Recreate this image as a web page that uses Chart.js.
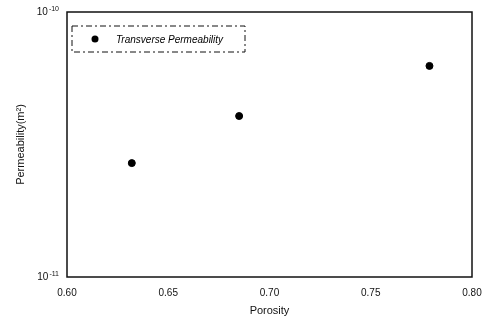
<!DOCTYPE html>
<html>
<head>
<meta charset="utf-8">
<script src="https://cdn.jsdelivr.net/npm/chart.js@4"></script>
<style>
  body { margin: 0; background: #fff; }
  #wrap { width: 491px; height: 322px; }
</style>
</head>
<body>
<div id="wrap"><canvas id="c"></canvas></div>
<script>
// données
const porosity = [0.632, 0.685, 0.779];
const permeability = [2.69e-11, 4.05e-11, 6.26e-11];
const xTicks = [0.60, 0.65, 0.70, 0.75, 0.80];
const yTicks = [1e-11, 1e-10];
const yExponents = ['-11', '-10'];
const seriesLabel = 'Transverse Permeability';

const font = 'Liberation Sans, Arial, sans-serif';

// cadre, étiquettes 10^n de l'axe y et légende en pointillés
const framePlugin = {
    id: 'frame',
    afterDraw(chart) {
        const ctx = chart.ctx;
        const a = chart.chartArea;
        const y = chart.scales.y;
        ctx.save();
        ctx.strokeStyle = '#111';
        ctx.lineWidth = 1.5;
        ctx.strokeRect(a.left, a.top, a.right - a.left, a.bottom - a.top);

        // étiquettes de l'axe y : 10 avec exposant
        ctx.fillStyle = '#111';
        ctx.textBaseline = 'alphabetic';
        yTicks.forEach((v, i) => {
            const py = y.getPixelForValue(v);
            ctx.font = '7px ' + font;
            ctx.textAlign = 'left';
            const ew = ctx.measureText(yExponents[i]).width;
            const ex = a.left - 8 - ew;
            ctx.fillText(yExponents[i], ex, py - 1);
            ctx.font = '10px ' + font;
            ctx.textAlign = 'right';
            ctx.fillText('10', ex - 1, py + 3);
        });

        // légende
        const lx = a.left + 5, ly = a.top + 14, lw = 173, lh = 26;
        ctx.lineWidth = 1;
        ctx.setLineDash([6, 3, 2, 3]);
        ctx.strokeRect(lx, ly, lw, lh);
        ctx.setLineDash([]);
        ctx.fillStyle = '#000';
        ctx.beginPath();
        ctx.arc(lx + 23, ly + lh / 2, 3.5, 0, Math.PI * 2);
        ctx.fill();
        ctx.font = 'italic 10px ' + font;
        ctx.textAlign = 'left';
        ctx.textBaseline = 'middle';
        ctx.fillText(seriesLabel, lx + 44, ly + lh / 2 + 1);
        ctx.restore();
    }
};

const data = {
    datasets: [{
        label: seriesLabel,
        data: porosity.map((x, i) => ({ x: x, y: permeability[i] })),
        backgroundColor: '#000',
        borderColor: '#000',
        pointRadius: 3.5,
        pointHoverRadius: 3.5
    }]
};

const config = {
    type: 'scatter',
    data: data,
    options: {
        responsive: true,
        maintainAspectRatio: false,
        animation: false,
        layout: { padding: { top: 12, right: 19, left: 0, bottom: 0 } },
        plugins: {
            legend: { display: false },
            tooltip: { enabled: false }
        },
        scales: {
            x: {
                type: 'linear',
                min: 0.6,
                max: 0.8,
                afterBuildTicks(axis) {
                    axis.ticks = xTicks.map(v => ({ value: v }));
                },
                afterFit(axis) { axis.height = 45; },
                grid: { display: false },
                border: { display: false },
                ticks: {
                    color: '#111',
                    font: { family: font, size: 10 },
                    padding: 2,
                    callback: v => v.toFixed(2)
                },
                title: {
                    display: true,
                    text: 'Porosity',
                    color: '#111',
                    font: { family: font, size: 11 },
                    padding: { top: 4 }
                }
            },
            y: {
                type: 'logarithmic',
                min: 1e-11,
                max: 1e-10,
                afterFit(axis) { axis.width = 67; },
                grid: { display: false },
                border: { display: false },
                ticks: {
                    padding: 0,
                    callback: () => ''
                },
                title: {
                    display: true,
                    text: 'Permeability(m\u00B2)',
                    color: '#111',
                    font: { family: font, size: 11 },
                    padding: { top: 14, bottom: 0 }
                }
            }
        }
    },
    plugins: [framePlugin]
};

const graphe = new Chart(document.getElementById('c'), config);
</script>
</body>
</html>
